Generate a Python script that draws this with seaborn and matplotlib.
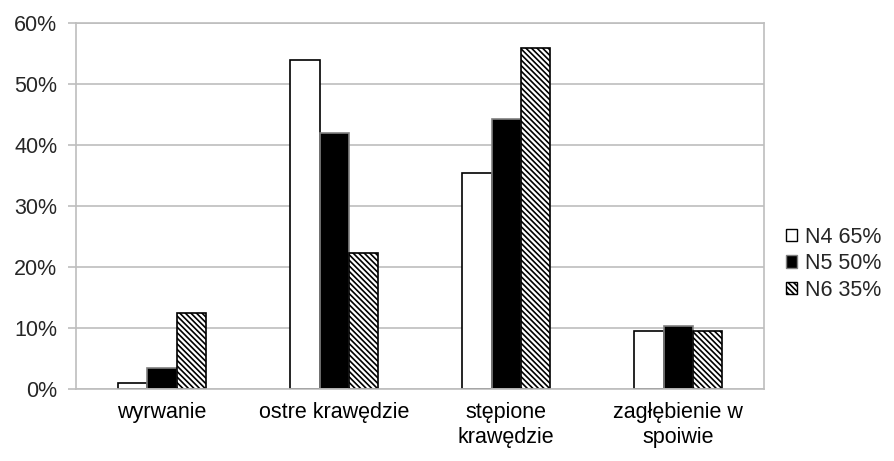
import numpy as np
import pandas as pd
import matplotlib
matplotlib.use("Agg")
import matplotlib.pyplot as plt
import seaborn as sns
from matplotlib.ticker import PercentFormatter, FixedLocator
from matplotlib.patches import Patch

# dane z wykresu (udział w %)
kategorie = ["wyrwanie", "ostre krawędzie", "stępione\nkrawędzie", "zagłębienie w\nspoiwie"]
serie = ["N4 65%", "N5 50%", "N6 35%"]
n4 = [1.0, 53.9, 35.4, 9.5]
n5 = [3.5, 42.0, 44.2, 10.3]
n6 = [12.4, 22.2, 55.8, 9.5]

df = pd.DataFrame({
    "kategoria": kategorie * 3,
    "seria": [serie[0]] * 4 + [serie[1]] * 4 + [serie[2]] * 4,
    "udzial": n4 + n5 + n6,
})

sns.set_theme(style="white")
plt.rcParams['font.family'] = ['Liberation Sans', 'DejaVu Sans']
plt.rcParams['hatch.color'] = '#4a4a4a'
plt.rcParams['hatch.linewidth'] = 1.2

FS = 15.5
HATCH = "\\\\\\\\\\\\"

fig, ax = plt.subplots(figsize=(8.94, 4.61), dpi=100)
fig.subplots_adjust(left=0.085, right=0.855, bottom=0.156, top=0.951)

sns.barplot(data=df, x="kategoria", y="udzial", hue="seria", order=kategorie,
            hue_order=serie, width=0.51, gap=0, ax=ax, legend=False,
            palette=["white", "black", "white"], saturation=1)

# styl słupków: pusty, czarny, kreskowany
style = [dict(hatch=None, ec="black"), dict(hatch=None, ec="#808080"),
         dict(hatch=HATCH, ec="black")]
for cont, st in zip(ax.containers, style):
    for bar in cont:
        bar.set_edgecolor(st["ec"])
        bar.set_linewidth(1.2)
        if st["hatch"]:
            bar.set_hatch(st["hatch"])

ax.set_ylim(0, 60)
ax.set_xlim(-0.5, 3.5)
ax.set_yticks(np.arange(0, 61, 10))
ax.yaxis.set_major_formatter(PercentFormatter(decimals=0))
ax.yaxis.grid(True, color="#BEBEBE", linewidth=1.2)
ax.set_axisbelow(True)
ax.set_xlabel("")
ax.set_ylabel("")

for s in ["left", "right", "bottom", "top"]:
    ax.spines[s].set_visible(True)
    ax.spines[s].set_color("#BEBEBE")
    ax.spines[s].set_linewidth(1.2)

ax.tick_params(axis="x", which="major", length=0, labelsize=FS, pad=9, colors="black")
ax.xaxis.set_minor_locator(FixedLocator([-0.5, 0.5, 1.5, 2.5, 3.5]))
ax.tick_params(axis="x", which="minor", length=5.5, color="#BEBEBE", width=1.2, direction="out")
ax.tick_params(axis="y", length=5.5, color="#BEBEBE", width=1.2, labelsize=FS, pad=8, left=True)
for lbl in ax.get_xticklabels():
    lbl.set_linespacing(1.25)

uchwyty = [Patch(facecolor="white", edgecolor="black", label=serie[0]),
           Patch(facecolor="black", edgecolor="#808080", label=serie[1]),
           Patch(facecolor="white", edgecolor="black", hatch=HATCH, label=serie[2])]
fig.legend(handles=uchwyty, loc="center left", bbox_to_anchor=(786 / 894, 0.428),
           frameon=False, fontsize=FS, handlelength=0.5, handleheight=0.5,
           handletextpad=0.4, labelspacing=0.26, borderpad=0, borderaxespad=0)

plt.savefig("out.png", dpi=100)
